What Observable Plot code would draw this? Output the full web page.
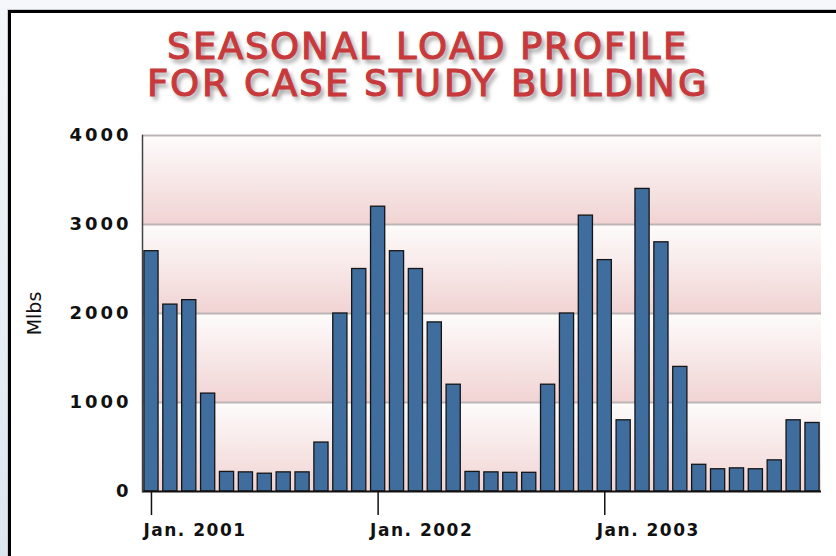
<!DOCTYPE html>
<html>
<head>
<meta charset="utf-8">
<script src="https://cdn.jsdelivr.net/npm/d3@7"></script>
<script src="https://cdn.jsdelivr.net/npm/@observablehq/plot@0.6"></script>
<style>
  @font-face {
    font-family: "TitleFace";
    src: local("DejaVu Sans"), local("DejaVuSans");
    ascent-override: 84%;
    descent-override: 8%;
    line-gap-override: 0%;
  }
  html, body { margin: 0; padding: 0; }
  body {
    width: 836px; height: 556px; overflow: hidden; position: relative;
    background: linear-gradient(to bottom, #f5f7fa 0%, #e6edf4 60%, #dce6f1 100%);
  }
  #frame {
    position: absolute; left: 8px; top: 10px; width: 900px; height: 600px;
    border-left: 3px solid #000; border-top: 3px solid #000; background: #fff;
    box-shadow: -1px -1px 0 #c9ccd0;
  }
  .title {
    position: absolute; left: 0; width: 856px; height: 37px; text-align: center;
    font-family: "TitleFace", "DejaVu Sans", sans-serif; font-weight: normal; font-size: 37px;
    line-height: 37px; color: #c8393c; letter-spacing: 2.2px; white-space: nowrap;
    -webkit-text-stroke: 1.1px #c8393c;
    text-shadow: 3px 4px 4px rgba(60,60,60,0.55);
  }
  #title1 { top: 27px; }
  #title2 { top: 64px; }
  #chart { position: absolute; left: 0; top: 110px; }
  #chart g[aria-label="y-axis tick label"] text { letter-spacing: 3px; }
  #chart g[aria-label="x-axis tick label"] text { letter-spacing: 1.5px; }
  #chart g[aria-label="y-axis label"] text { font-weight: normal; font-size: 19px; }
</style>
</head>
<body>
<div id="frame"></div>
<div class="title" id="title1">SEASONAL LOAD PROFILE</div>
<div class="title" id="title2">FOR CASE STUDY BUILDING</div>
<div id="chart"></div>
<script>
// ---- data ----
const years = [2001, 2002, 2003];
const months = ["Jan", "Feb", "Mar", "Apr", "May", "Jun", "Jul", "Aug", "Sep", "Oct", "Nov", "Dec"];
const load2001 = [2700, 2100, 2150, 1100, 220, 215, 200, 215, 215, 550, 2000, 2500];
const load2002 = [3200, 2700, 2500, 1900, 1200, 220, 215, 210, 210, 1200, 2000, 3100];
const load2003 = [2600, 800, 3400, 2800, 1400, 300, 250, 260, 250, 350, 800, 770];
const yTicks = [0, 1000, 2000, 3000, 4000];
const xTickLabels = ["Jan. 2001", "Jan. 2002", "Jan. 2003"];
const yLabel = "Mlbs";

// ---- build table ----
const series = [load2001, load2002, load2003];
const table = [];
years.forEach((yr, i) => months.forEach((m, j) => table.push({key: `${yr}-${m}`, value: series[i][j]})));
const keys = table.map(d => d.key);
const janKeys = years.map(yr => `${yr}-Jan`);
const tickLabelOf = k => xTickLabels[janKeys.indexOf(k)];
const bands = d3.pairs(yTicks);

const chart = Plot.plot({
  width: 836,
  height: 446,
  marginTop: 25,
  marginLeft: 142,
  marginRight: 15,
  marginBottom: 65,
  style: {fontFamily: "DejaVu Sans, sans-serif", fontSize: "17px", color: "#111", background: "transparent", overflow: "visible"},
  x: {domain: keys, paddingInner: 0.25, paddingOuter: 0.1, label: null},
  y: {domain: [0, 4000], label: null},
  marks: [
    Plot.rect(bands, {y1: d => d[0], y2: d => d[1], fill: "url(#bandGrad)"}),
    Plot.ruleY(yTicks.slice(1), {stroke: "#bdb5b5", strokeWidth: 2}),
    Plot.barY(table, {x: "key", y: "value", fill: "#3f6d9d", stroke: "#151515", strokeWidth: 1.3}),
    Plot.ruleY([0], {stroke: "#111", strokeWidth: 2}),
    Plot.frame({anchor: "left", stroke: "#444", strokeWidth: 1.5}),
    // tick marks at each January
    Plot.axisX(janKeys, {tickSize: 24, tickFormat: () => "", stroke: "#111", strokeWidth: 1.5, label: null}),
    // tick labels, starting slightly left of the tick
    Plot.axisX(janKeys, {tickSize: 0, tickPadding: 32, tickFormat: tickLabelOf, textAnchor: "start", dx: -8,
      fill: "#111", fontWeight: "bold", fontSize: 17, label: null}),
    Plot.axisY(yTicks, {tickSize: 0, tickPadding: 11, tickFormat: d3.format("d"), fontWeight: "bold", fontSize: 18, fill: "#111",
      label: yLabel, labelAnchor: "center", labelArrow: "none", labelOffset: 115})
  ]
});

const defs = d3.select(chart).insert("defs", ":first-child");
const g = defs.append("linearGradient").attr("id", "bandGrad").attr("x1", 0).attr("y1", 0).attr("x2", 0).attr("y2", 1);
g.append("stop").attr("offset", "0%").attr("stop-color", "#fefcfc");
g.append("stop").attr("offset", "100%").attr("stop-color", "#f1d3d3");

document.getElementById("chart").appendChild(chart);
</script>
</body>
</html>
